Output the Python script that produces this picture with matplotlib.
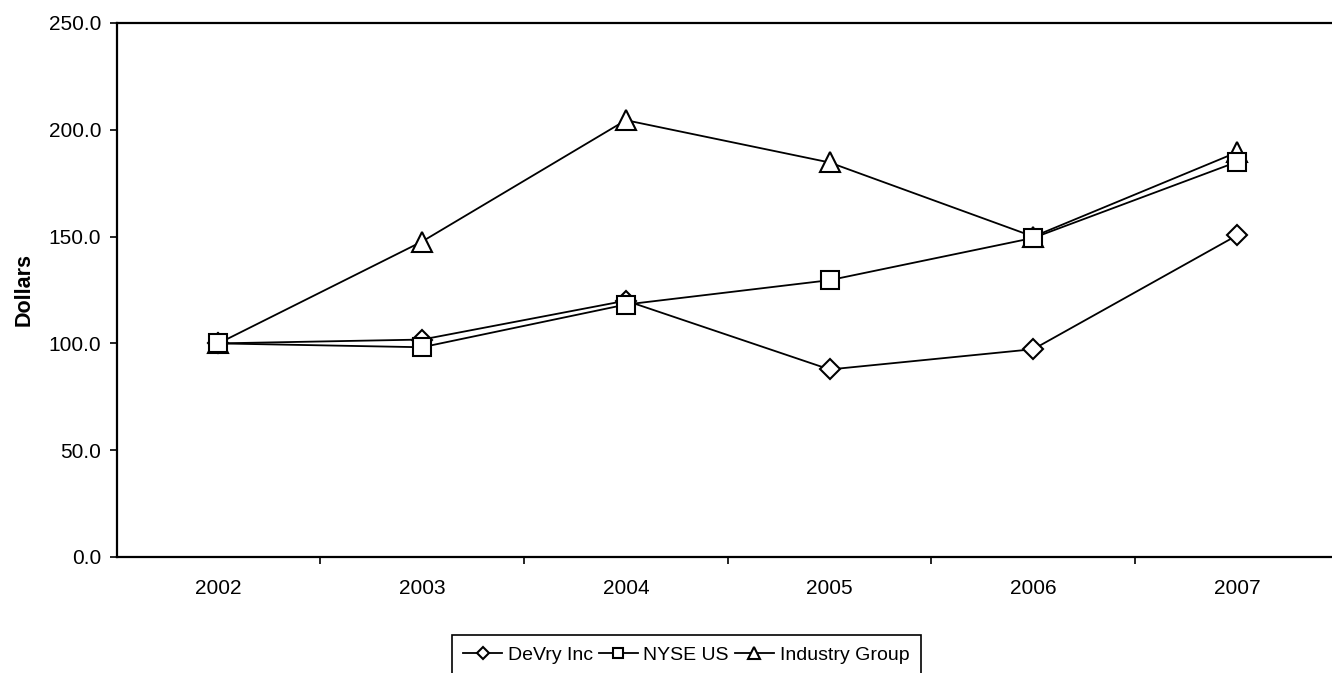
import matplotlib
matplotlib.use("Agg")
import matplotlib.pyplot as plt
from matplotlib import font_manager

years = ["2002", "2003", "2004", "2005", "2006", "2007"]
devry = [100.0, 101.8, 120.0, 87.8, 97.3, 150.6]
nyse = [100.0, 98.2, 118.2, 129.6, 149.4, 185.0]
industry = [100.0, 147.7, 204.5, 184.7, 150.0, 189.5]
y_ticks = [0, 50, 100, 150, 200, 250]

names = {f.name for f in font_manager.fontManager.ttflist}
font = "Liberation Sans" if "Liberation Sans" in names else "DejaVu Sans"
plt.rcParams["font.family"] = [font, "DejaVu Sans"]

fig = plt.figure(figsize=(13.32, 6.73), dpi=100)
W, H = 1332, 673
left, right, top, bottom = 116.5, 1339.0, 23.0, 557.0
ax = fig.add_axes([left / W, 1 - bottom / H, (right - left) / W, (bottom - top) / H])

x = list(range(len(years)))
common = dict(color="black", linewidth=1.3, markerfacecolor="white",
              markeredgecolor="black", markeredgewidth=1.5)
ax.plot(x, devry, marker="D", markersize=10.5, label="DeVry Inc", zorder=3, **common)
ax.plot(x, industry, marker="^", markersize=14.5, label="Industry Group", zorder=4, **common)
ax.plot(x, nyse, marker="s", markersize=13, label="NYSE US", zorder=5, **common)

ax.set_xlim(-0.5, len(years) - 0.5)
ax.set_ylim(0, 250)
ax.set_yticks(y_ticks)
ax.set_yticklabels([f"{v:.1f}" for v in y_ticks], fontsize=15)
ax.set_xticks(x)
ax.set_xticklabels(years, fontsize=15)
ax.set_xticks([i + 0.5 for i in x[:-1]], minor=True)
ax.tick_params(axis="x", which="major", length=0, pad=16)
ax.tick_params(axis="x", which="minor", length=5, width=1.2, direction="out")
ax.tick_params(axis="y", which="major", length=5, width=1.2, direction="out", pad=6)
for s in ["left", "bottom", "top"]:
    ax.spines[s].set_linewidth(1.6)
ax.spines["right"].set_visible(False)

ax.set_ylabel("Dollars", fontsize=15.5, fontweight="bold", labelpad=10)

handles, labels = ax.get_legend_handles_labels()
order = [labels.index(n) for n in ["DeVry Inc", "NYSE US", "Industry Group"]]
leg = fig.legend([handles[i] for i in order], [labels[i] for i in order],
                 loc="upper left", bbox_to_anchor=(451.5 / W, 1 - 635 / H), ncol=3,
                 frameon=True, fancybox=False, edgecolor="black", framealpha=1,
                 handlelength=2.0, handletextpad=0.3, columnspacing=0.3,
                 borderpad=0.6, borderaxespad=0,
                 prop={"size": 14}, markerscale=0.6)
leg.get_frame().set_linewidth(1.2)

fig.savefig("out.png", dpi=100)
